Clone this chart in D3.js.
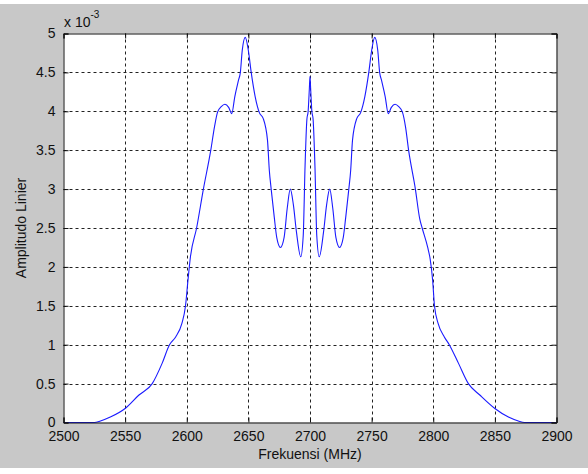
<!DOCTYPE html>
<html>
<head>
<meta charset="utf-8">
<script src="https://cdn.jsdelivr.net/npm/d3@7"></script>
<style>
  body { margin: 0; background: #fff; }
  svg { display: block; }
  text { font-family: "Liberation Sans", Arial, sans-serif; fill: #111; }
</style>
</head>
<body>
<svg id="chart" width="588" height="474"></svg>
<script>
// frequency in MHz, amplitude in units of 10^-3
const freq = [
  2500, 2525, 2530, 2538, 2550, 2561, 2572, 2580, 2586, 2591, 2596, 2599, 2601, 2603,
  2608, 2613.5, 2619.5, 2622.5, 2625, 2628, 2631, 2634, 2636.5, 2639, 2642, 2643.5,
  2645, 2647.5, 2650, 2652.3, 2655.5, 2659, 2662, 2665.5, 2667, 2668.5, 2671, 2673,
  2676, 2679, 2681.5, 2684, 2686.5, 2689, 2692.5, 2694.5, 2696, 2697.5, 2698.5, 2699.5,
  2700, 2700.5, 2701.5, 2702.5, 2704, 2705.5, 2707.5, 2711, 2713.5, 2716, 2718.5, 2721,
  2724, 2727, 2729, 2731.5, 2733, 2734.5, 2738, 2741, 2744.5, 2747.7, 2750, 2752.5,
  2755, 2756.5, 2758, 2761, 2763.5, 2766, 2769, 2772, 2775, 2777.5, 2780, 2785.5,
  2789, 2791, 2795.5, 2797.5, 2799.5, 2801, 2804, 2809, 2813, 2820.5, 2828.5, 2838,
  2850, 2861, 2869, 2874, 2900
];
const amplitude = [
  0, 0, 0.02, 0.07, 0.18, 0.35, 0.5, 0.76, 1.0, 1.1, 1.27, 1.5, 1.83, 2.13,
  2.5, 3.0, 3.5, 3.8, 3.99, 4.06, 4.09, 4.05, 3.97, 4.19, 4.4, 4.5,
  4.78, 4.95, 4.78, 4.5, 4.19, 3.98, 3.91, 3.63, 3.24, 3.0, 2.64, 2.38,
  2.25, 2.38, 2.75, 3.0, 2.8, 2.45, 2.13, 2.4, 3.3, 3.9, 4.0, 4.3,
  4.45, 4.3, 4.0, 3.9, 3.3, 2.4, 2.13, 2.45, 2.8, 3.0, 2.75, 2.38,
  2.25, 2.38, 2.64, 3.0, 3.24, 3.63, 3.91, 3.98, 4.19, 4.5, 4.78, 4.95,
  4.78, 4.5, 4.4, 4.19, 3.97, 4.05, 4.09, 4.06, 3.99, 3.8, 3.5, 3.0,
  2.62, 2.5, 2.25, 2.1, 1.83, 1.5, 1.27, 1.1, 1.0, 0.76, 0.5, 0.35,
  0.18, 0.07, 0.02, 0, 0
];
const xTicks = [2500, 2550, 2600, 2650, 2700, 2750, 2800, 2850, 2900];
const yTicks = [0, 0.5, 1, 1.5, 2, 2.5, 3, 3.5, 4, 4.5, 5];
const yTickLabels = ["0", "0.5", "1", "1.5", "2", "2.5", "3", "3.5", "4", "4.5", "5"];

const width = 588, height = 474;
const plot = {left: 63.5, right: 556.5, top: 33.5, bottom: 422.5};

const svg = d3.select("#chart");

// figure background (gray with white strips like the screenshot)
svg.append("rect").attr("x", 0).attr("y", 4).attr("width", width).attr("height", 464)
  .attr("fill", "#c8c8c8");

const x = d3.scaleLinear().domain([2500, 2900]).range([plot.left, plot.right]);
const y = d3.scaleLinear().domain([0, 5]).range([plot.bottom, plot.top]);

svg.append("rect")
  .attr("x", plot.left).attr("y", plot.top)
  .attr("width", plot.right - plot.left).attr("height", plot.bottom - plot.top)
  .attr("fill", "#fff");

// dotted grid
const grid = svg.append("g").attr("stroke", "#222").attr("stroke-width", 1)
  .attr("stroke-dasharray", "3,3");
grid.selectAll("line.vx").data(xTicks.slice(1, -1)).enter().append("line")
  .attr("x1", d => Math.round(x(d)) + 0.5).attr("x2", d => Math.round(x(d)) + 0.5)
  .attr("y1", plot.top).attr("y2", plot.bottom);
grid.selectAll("line.hy").data(yTicks.slice(1, -1)).enter().append("line")
  .attr("y1", d => Math.round(y(d)) + 0.5).attr("y2", d => Math.round(y(d)) + 0.5)
  .attr("x1", plot.left).attr("x2", plot.right);

// curve
const line = d3.line()
  .x((d, i) => x(freq[i]))
  .y((d, i) => y(amplitude[i]))
  .curve(d3.curveMonotoneX);

svg.append("path")
  .datum(amplitude)
  .attr("d", line)
  .attr("fill", "none")
  .attr("stroke", "#1a1aff")
  .attr("stroke-width", 1.1);

// axes with inward ticks on all four sides
const fmtY = (d, i) => yTickLabels[i];
const axB = svg.append("g").attr("transform", `translate(0,${plot.bottom})`)
  .call(d3.axisBottom(x).tickValues(xTicks).tickSize(-5).tickPadding(10).tickFormat(d3.format("d")));
const axT = svg.append("g").attr("transform", `translate(0,${plot.top})`)
  .call(d3.axisTop(x).tickValues(xTicks).tickSize(-5).tickFormat(""));
const axL = svg.append("g").attr("transform", `translate(${plot.left},0)`)
  .call(d3.axisLeft(y).tickValues(yTicks).tickSize(-5).tickPadding(8).tickFormat(fmtY));
const axR = svg.append("g").attr("transform", `translate(${plot.right},0)`)
  .call(d3.axisRight(y).tickValues(yTicks).tickSize(-5).tickFormat(""));

[axB, axT, axL, axR].forEach(a => {
  a.select(".domain").attr("stroke", "#111").attr("stroke-width", 1);
  a.selectAll(".tick line").attr("stroke", "#111");
  a.selectAll("text").style("font-size", "14px").attr("fill", "#111");
});
axB.selectAll("text").attr("dy", "0.71em").attr("y", 9);

// exponent label
const expo = svg.append("text").attr("x", 64).attr("y", 27).style("font-size", "14px");
expo.append("tspan").text("x 10");
expo.append("tspan").attr("dy", -9).style("font-size", "10px").text("-3");

// axis titles
svg.append("text")
  .attr("x", (plot.left + plot.right) / 2).attr("y", 459)
  .attr("text-anchor", "middle").style("font-size", "14px")
  .text("Frekuensi (MHz)");

svg.append("text")
  .attr("transform", `translate(26,${(plot.top + plot.bottom) / 2}) rotate(-90)`)
  .attr("text-anchor", "middle").style("font-size", "14px")
  .text("Amplitudo Linier");
</script>
</body>
</html>
